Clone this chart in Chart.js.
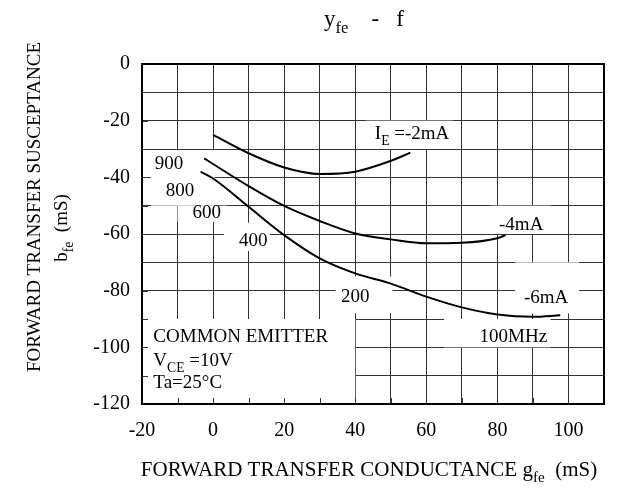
<!DOCTYPE html>
<html>
<head>
<meta charset="utf-8">
<script src="https://cdn.jsdelivr.net/npm/chart.js@4/dist/chart.umd.min.js"></script>
<style>
  html, body { margin: 0; padding: 0; background: #fff; }
  #wrap { width: 626px; height: 492px; }
</style>
</head>
<body>
<div id="wrap"><canvas id="chart" width="626" height="492"></canvas></div>
<script>
// tick labels
const gTicks = [-20, 0, 20, 40, 60, 80, 100];
const bTicks = [0, -20, -40, -60, -80, -100, -120];

// I_E = -2mA
const g2mA = [0, 10, 20, 30, 40, 50, 55.5];
const b2mA = [-25, -31.5, -36.5, -38.8, -38, -34.2, -31.3];

// I_E = -4mA
const g4mA = [-2.5, 0, 10, 20, 30, 40, 50, 60, 70, 80, 82.3];
const b4mA = [-33.3, -35.3, -43.1, -50.1, -55.4, -59.8, -61.9, -63.3, -63.1, -61.5, -60.4];

// I_E = -6mA
const g6mA = [-3.5, 0, 10, 20, 30, 40, 50, 60, 70, 80, 90, 97.7];
const b6mA = [-38, -40.4, -50.4, -60.4, -68.6, -73.9, -77.5, -82.1, -85.9, -88.4, -89.2, -88.7];

const SERIF = "'Liberation Serif', 'Times New Roman', serif";

// text placed in data coords: [parts, x, y, align]
const notes = [
  [[["900"]], -12.4, -34.8, "center"],
  [[["800"]], -9.3, -44.2, "center"],
  [[["600"]], -1.8, -52.1, "center"],
  [[["400"]], 11.3, -62.1, "center"],
  [[["200"]], 40, -81.8, "center"],
  [[["100MHz"]], 84.5, -96, "center"],
  [[["I"], ["E", 1], [" =-2mA"]], 56, -24.4, "center"],
  [[["-4mA"]], 86.7, -56.2, "center"],
  [[["-6mA"]], 93.7, -82.1, "center"],
  [[["COMMON EMITTER"]], -16.8, -96, "left"],
  [[["V"], ["CE", 1], [" =10V"]], -16.8, -104.5, "left"],
  [[["Ta=25\u00b0C"]], -16.8, -112.1, "left"]
];

// white areas behind the labels: [x0, x1, y0, y1]
const masks = [
  [-20, 40, -90, -120],
  [65, 95, -90, -100],
  [34.5, 50.5, -75, -88],
  [85, 103, -70, -88],
  [78, 95, -50, -60],
  [43, 67.5, -20, -30],
  [3, 16, -56, -66],
  [-17.5, 0.4, -30.5, -50],
  [-10, 4, -50, -55.7]
];

function pts(xs, ys) {
  return xs.map((x, i) => ({ x: x, y: ys[i] }));
}

function rich(ctx, parts, x, y, align, size) {
  const sub = size * 0.72;
  let w = 0;
  parts.forEach(p => {
    ctx.font = (p[1] ? sub : size) + "px " + SERIF;
    w += ctx.measureText(p[0]).width;
  });
  let cx = align === "center" ? x - w / 2 : align === "right" ? x - w : x;
  ctx.textAlign = "left";
  ctx.textBaseline = "alphabetic";
  parts.forEach(p => {
    ctx.font = (p[1] ? sub : size) + "px " + SERIF;
    ctx.fillText(p[0], cx, y + (p[1] ? size * 0.3 : 0));
    cx += ctx.measureText(p[0]).width;
  });
}

const decor = {
  id: "decor",
  beforeDatasetsDraw(chart) {
    const { ctx, chartArea: a, scales: { x, y } } = chart;
    ctx.save();
    ctx.fillStyle = "#fff";
    masks.forEach(m => {
      const x0 = x.getPixelForValue(m[0]), x1 = x.getPixelForValue(m[1]);
      const y0 = y.getPixelForValue(m[2]), y1 = y.getPixelForValue(m[3]);
      ctx.fillRect(Math.min(x0, x1), Math.min(y0, y1), Math.abs(x1 - x0), Math.abs(y1 - y0));
    });
    // small inward ticks
    ctx.strokeStyle = "#333";
    ctx.lineWidth = 1;
    ctx.beginPath();
    for (let v = -10; v < 110; v += 10) {
      const px = Math.round(x.getPixelForValue(v)) + 0.5;
      ctx.moveTo(px, a.bottom);
      ctx.lineTo(px, a.bottom - 6);
    }
    for (let v = -110; v < 0; v += 10) {
      const py = Math.round(y.getPixelForValue(v)) + 0.5;
      ctx.moveTo(a.left, py);
      ctx.lineTo(a.left + 6, py);
    }
    ctx.stroke();
    ctx.restore();
  },
  afterDatasetsDraw(chart) {
    const { ctx, chartArea: a, scales: { x, y } } = chart;
    ctx.save();
    ctx.strokeStyle = "#000";
    ctx.lineWidth = 2;
    ctx.strokeRect(a.left, a.top, a.right - a.left, a.bottom - a.top);
    ctx.fillStyle = "#000";
    notes.forEach(n => {
      const size = 19;
      rich(ctx, n[0], x.getPixelForValue(n[1]), y.getPixelForValue(n[2]) + size * 0.33, n[3], size);
    });
    // titles
    rich(ctx, [["y"], ["fe", 1], ["    -   f"]], 364, 26, "center", 23);
    rich(ctx, [["FORWARD TRANSFER CONDUCTANCE g"], ["fe", 1], ["  (mS)"]], 369, 476, "center", 21);
    ctx.translate(40, 207);
    ctx.rotate(-Math.PI / 2);
    rich(ctx, [["FORWARD TRANSFER SUSCEPTANCE"]], 0, 0, "center", 19);
    rich(ctx, [["b"], ["fe", 1], ["  (mS)"]], -21, 27, "center", 19);
    ctx.restore();
  }
};

new Chart(document.getElementById("chart"), {
  type: "scatter",
  data: {
    datasets: [
      { label: "-2mA", data: pts(g2mA, b2mA) },
      { label: "-4mA", data: pts(g4mA, b4mA) },
      { label: "-6mA", data: pts(g6mA, b6mA) }
    ].map(d => Object.assign(d, {
      showLine: true,
      borderColor: "#000",
      borderWidth: 2,
      pointRadius: 0,
      cubicInterpolationMode: "monotone"
    }))
  },
  options: {
    responsive: false,
    animation: false,
    layout: { padding: { top: 64, right: 22, left: 0, bottom: 0 } },
    plugins: { legend: { display: false }, tooltip: { enabled: false } },
    scales: {
      x: {
        type: "linear",
        min: -20,
        max: 110,
        afterFit: s => { s.height = 88; },
        border: { display: false },
        grid: { color: "#333", lineWidth: 1, drawTicks: false },
        ticks: {
          stepSize: 10,
          autoSkip: false,
          maxRotation: 0,
          padding: 15,
          color: "#000",
          font: { family: SERIF, size: 20 },
          callback: v => gTicks.includes(v) ? String(v) : ""
        }
      },
      y: {
        type: "linear",
        min: -120,
        max: 0,
        afterFit: s => { s.width = 142; },
        border: { display: false },
        grid: { color: "#333", lineWidth: 1, drawTicks: false },
        ticks: {
          stepSize: 10,
          autoSkip: false,
          padding: 12,
          color: "#000",
          font: { family: SERIF, size: 20 },
          callback: v => bTicks.includes(v) ? String(v) : ""
        }
      }
    }
  },
  plugins: [decor]
});
</script>
</body>
</html>
